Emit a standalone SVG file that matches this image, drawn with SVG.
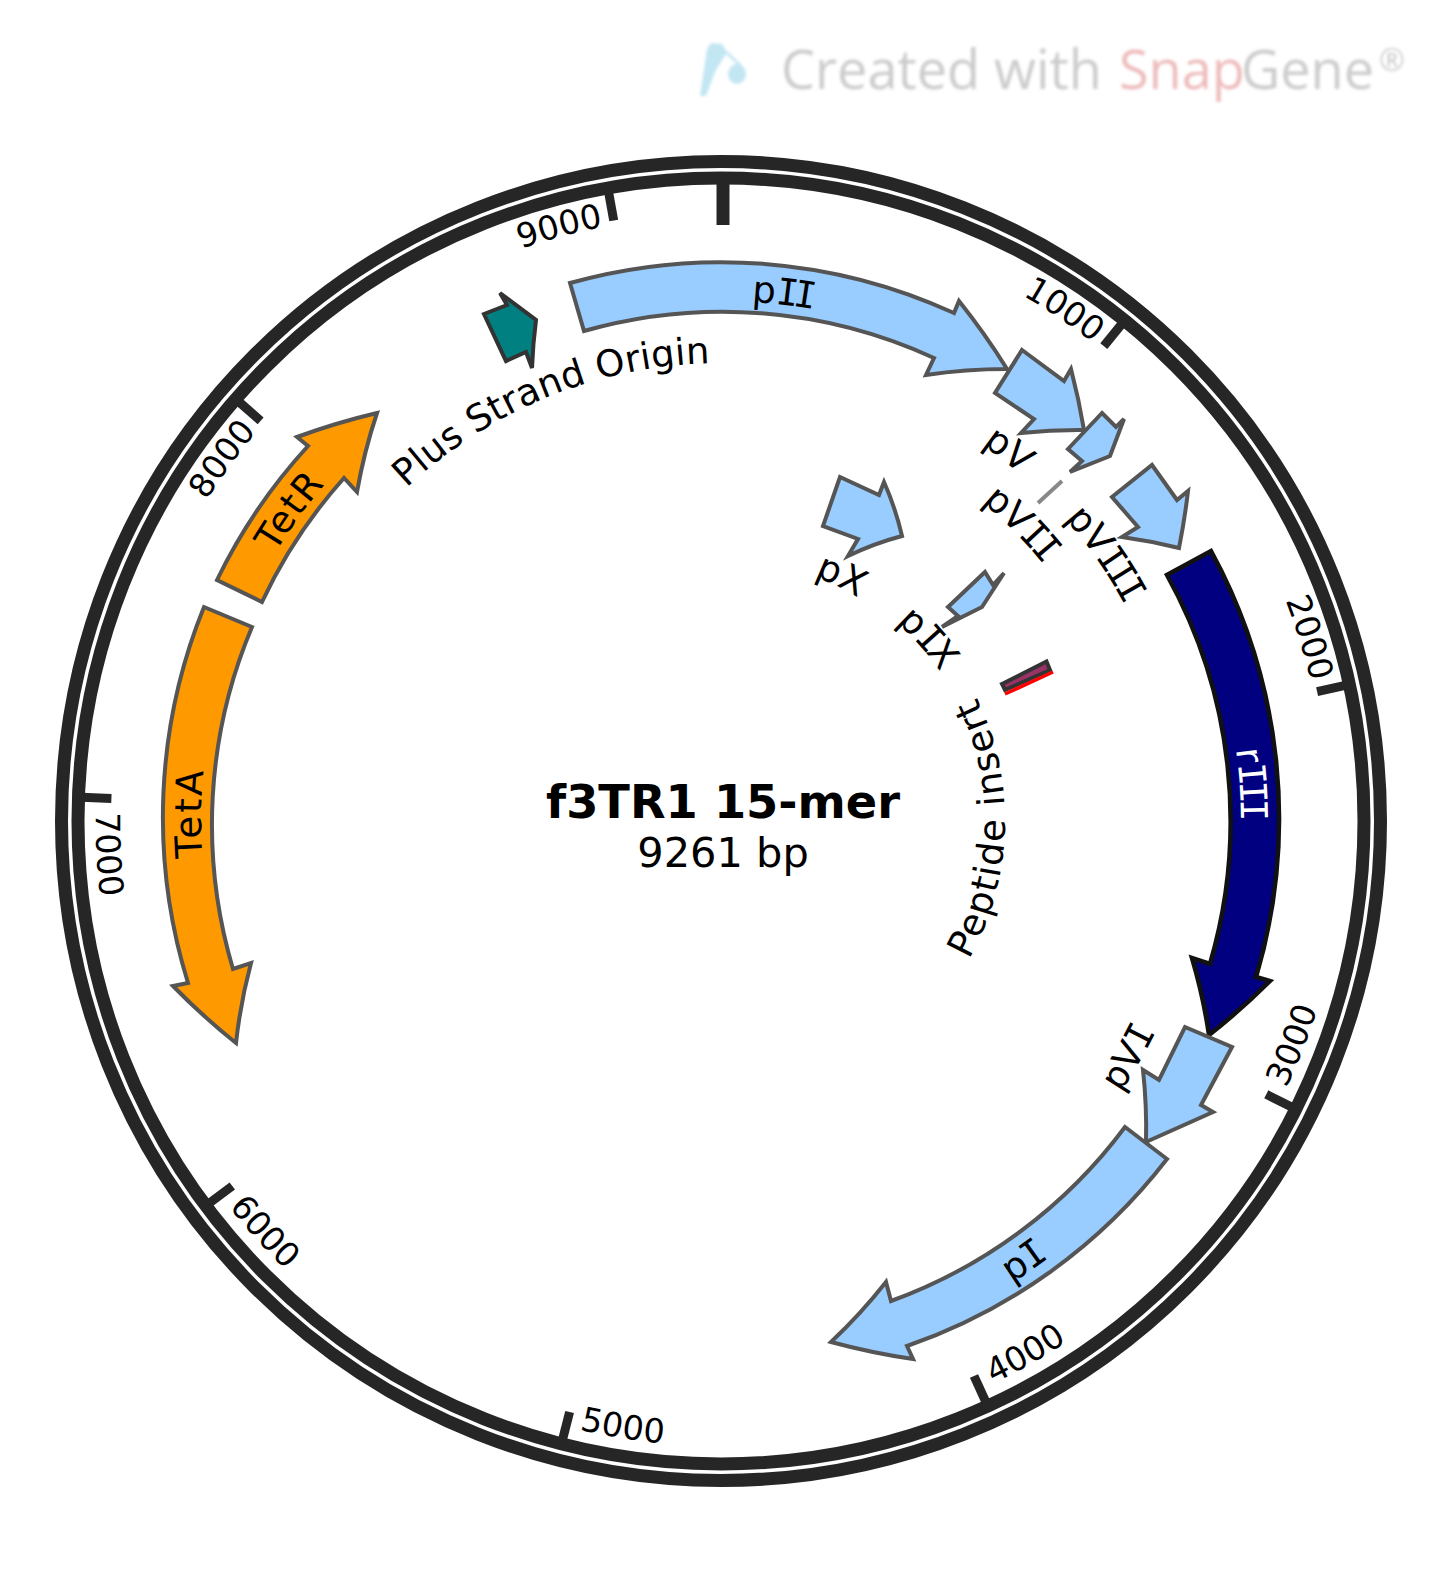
<svg xmlns="http://www.w3.org/2000/svg" width="1445" height="1587" viewBox="0 0 1445 1587">
<style>
text{font-family:"DejaVu Sans","Liberation Sans",sans-serif;fill:#000}
.tick{font-size:33.5px}
.lab{font-size:37px}
.i{font-family:"DejaVu Sans Mono","Liberation Mono",monospace;letter-spacing:-.13em}
.ring{fill:none;stroke:#262626}
.tk{stroke:#262626;stroke-width:9;fill:none}
.f{stroke:#555;stroke-width:4;stroke-linejoin:miter;stroke-miterlimit:10}
.blue{fill:#99ccff}
.orange{fill:#ff9900}
</style>
<defs>
<filter id="soft" x="-5%" y="-20%" width="110%" height="140%"><feGaussianBlur stdDeviation="1.4"/></filter>
<path id="c606" d="M721 215A606 606 0 1 1 721 1427A606 606 0 1 1 721 215"/>
<path id="a625" d="M721 196A625 625 0 1 0 721 1446A625 625 0 1 0 721 196"/>
<path id="c520" d="M721 301A520 520 0 1 1 721 1341A520 520 0 1 1 721 301"/>
<path id="a546" d="M721 275A546 546 0 1 0 721 1367A546 546 0 1 0 721 275"/>
<path id="a483" d="M721 338A483 483 0 1 0 721 1304A483 483 0 1 0 721 338"/>
<path id="c458" d="M721 363A458 458 0 1 1 721 1279A458 458 0 1 1 721 363"/>
<path id="c412" d="M721 409A412 412 0 1 1 721 1233A412 412 0 1 1 721 409"/>
<path id="c262" d="M721 559A262 262 0 1 1 721 1083A262 262 0 1 1 721 559"/>
<path id="c265" d="M721 556A265 265 0 1 1 721 1086A265 265 0 1 1 721 556"/>
<path id="a284" d="M721 537A284 284 0 1 0 721 1105A284 284 0 1 0 721 537"/>
</defs>
<rect width="1445" height="1587" fill="#fff"/>
<g id="watermark" filter="url(#soft)">
<path d="M700 96L707 49L711 43L722 44L727 52L715 72L706 96Z" fill="#c3e6f3"/>
<path d="M726 52L741 66" stroke="#c3e6f3" stroke-width="3" fill="none"/>
<ellipse cx="737" cy="74" rx="9" ry="10" fill="#c3e6f3"/>
<text y="89" font-size="54" style="font-family:'Open Sans','Noto Sans',sans-serif;fill:#cccccc"><tspan x="781">Created with </tspan><tspan x="1119" style="fill:#eebcbc">Snap</tspan><tspan x="1241">Gene</tspan><tspan x="1379" y="71" font-size="31">®</tspan></text>
</g>
<g id="backbone">
<circle class="ring" cx="721" cy="821" r="659.5" stroke-width="13"/>
<circle class="ring" cx="721" cy="821" r="643" stroke-width="13"/>
<path d="M723 182V225" stroke="#262626" stroke-width="13"/>
<path class="tk" d="M1122.7 322.8L1103.8 346.1"/>
<path class="tk" d="M1346.4 685.2L1317.1 691.6"/>
<path class="tk" d="M1293.1 1107.8L1266.3 1094.3"/>
<path class="tk" d="M986.5 1403.3L974 1376"/>
<path class="tk" d="M562.2 1441L569.6 1412"/>
<path class="tk" d="M208.2 1204L232.3 1186"/>
<path class="tk" d="M81.4 797.3L111.4 798.4"/>
<path class="tk" d="M238 401L260.6 420.8"/>
<path class="tk" d="M608.4 191L613.7 220.5"/>
</g>
<g id="ticks" class="tick">
<text><textPath href="#c606" startOffset="10.53%" text-anchor="end">1000</textPath></text>
<text><textPath href="#c606" startOffset="21.31%" text-anchor="end">2000</textPath></text>
<text><textPath href="#a625" startOffset="67.97%">3000</textPath></text>
<text><textPath href="#a625" startOffset="57.17%">4000</textPath></text>
<text><textPath href="#a625" startOffset="46.36%">5000</textPath></text>
<text><textPath href="#a625" startOffset="35.58%">6000</textPath></text>
<text><textPath href="#a625" startOffset="24.78%">7000</textPath></text>
<text><textPath href="#c606" startOffset="86.11%" text-anchor="end">8000</textPath></text>
<text><textPath href="#c606" startOffset="96.89%" text-anchor="end">9000</textPath></text>
</g>
<g id="connectors">
<path d="M1062 481L1038 503" stroke="#888" stroke-width="4" fill="none"/>
</g>
<g id="pII"><path class="f blue" d="M570 283A559 559 0 0 1 954 313L959 301A700 700 0 0 1 1007 369A540 540 0 0 0 926 375L934 358A507 507 0 0 0 584 331Z"/>
<text class="lab"><textPath href="#c520" startOffset="1.83%" text-anchor="middle">p<tspan class="i">II</tspan></textPath></text></g>
<g id="pV"><path class="f blue" d="M1022 350L1064 381L1071 369A700 700 0 0 1 1084 430A540 540 0 0 0 1021 433L1034 419L995 393Z"/>
<text class="lab"><textPath href="#c458" startOffset="10.5%" text-anchor="middle">pV</textPath></text></g>
<g id="pVII"><path class="f blue" style="stroke-miterlimit:4" d="M1102 413L1116 427L1124 419L1110 456L1070 472L1082 461L1068 449Z"/>
<text class="lab"><textPath href="#c412" startOffset="12.53%" text-anchor="middle">pV<tspan class="i">II</tspan></textPath></text></g>
<g id="pVIII"><path class="f blue" d="M1152 465L1177 500L1188 491A700 700 0 0 1 1179 548A540 540 0 0 0 1122 537L1138 527L1112 497Z"/>
<text class="lab"><textPath href="#c458" startOffset="15.28%" text-anchor="middle">pV<tspan class="i">III</tspan></textPath></text></g>
<g id="rIII"><path stroke="#111" stroke-width="4.5" fill="#000080" d="M1211 551A559 559 0 0 1 1256 977L1270 981A700 700 0 0 1 1209 1035A540 540 0 0 0 1192 958L1210 964A507 507 0 0 0 1167 575Z"/>
<text class="lab" style="fill:#fff"><textPath href="#c520" startOffset="23.83%" text-anchor="middle">r<tspan class="i">III</tspan></textPath></text></g>
<g id="pVI"><path class="f blue" d="M1232 1047L1201 1105L1213 1112L1146 1142A540 540 0 0 0 1143 1070L1159 1080L1185 1027Z"/>
<text class="lab"><textPath href="#a483" startOffset="66.58%" text-anchor="middle">pV<tspan class="i">I</tspan></textPath></text></g>
<g id="pI"><path class="f blue" d="M1167 1159A559 559 0 0 1 907 1346L913 1359A700 700 0 0 1 831 1342A540 540 0 0 0 886 1282L891 1301A507 507 0 0 0 1125 1127Z"/>
<text class="lab"><textPath href="#a546" startOffset="59.53%" text-anchor="middle">p<tspan class="i">I</tspan></textPath></text></g>
<g id="TetA"><path class="f orange" d="M204 607A559 559 0 0 0 188 983L173 986A700 700 0 0 0 236 1043A540 540 0 0 1 251 963L233 969A507 507 0 0 1 252 627Z"/>
<text class="lab" style="letter-spacing:2.6px"><textPath href="#c520" startOffset="75.25%" text-anchor="middle">TetA</textPath></text></g>
<g id="TetR"><path class="f orange" d="M217 580A559 559 0 0 1 308 446L297 437A700 700 0 0 1 377 413A540 540 0 0 0 357 492L344 478A507 507 0 0 0 262 602Z"/>
<text class="lab" style="letter-spacing:1.8px"><textPath href="#c520" startOffset="84.94%" text-anchor="middle">TetR</textPath></text></g>
<g id="PlusStrandOrigin"><path stroke="#333" stroke-width="4" fill="#008080" d="M484 314L507 305L500 293L536 320A540 540 0 0 0 532 368L526 352L506 361Z"/>
<text class="lab" style="letter-spacing:.1px"><textPath href="#c458" startOffset="93.78%" text-anchor="middle">Plus Strand Origin</textPath></text></g>
<g id="pX"><path class="f blue" d="M840 477L879 495L884 482A300 300 0 0 1 902 536A300 300 0 0 0 848 556L858 539L823 526Z"/>
<text class="lab"><textPath href="#c262" startOffset="7.28%" text-anchor="middle">pX</textPath></text></g>
<g id="pIX"><path class="f blue" d="M985 572L993 585L1004 573L982 607L942 627L958 616L948 607Z"/>
<text class="lab"><textPath href="#c265" startOffset="13.5%" text-anchor="middle">p<tspan class="i">I</tspan>X</textPath></text></g>
<g id="PeptideInsert"><path stroke="#333" stroke-width="4" fill="#993366" d="M1002 684L1046.500 661.500L1050 670L1005 690Z"/>
<path d="M1005 694L1053 672" stroke="#ff0000" stroke-width="3.5"/>
<text class="lab" style="letter-spacing:1.3px"><textPath href="#a284" startOffset="74.56%" text-anchor="middle">Peptide insert</textPath></text></g>
<g id="title"><text x="723" y="818" text-anchor="middle" font-size="46.300" font-weight="bold">f3TR1 15-mer</text>
<text x="723" y="867" text-anchor="middle" font-size="41.500">9261 bp</text></g>
</svg>
